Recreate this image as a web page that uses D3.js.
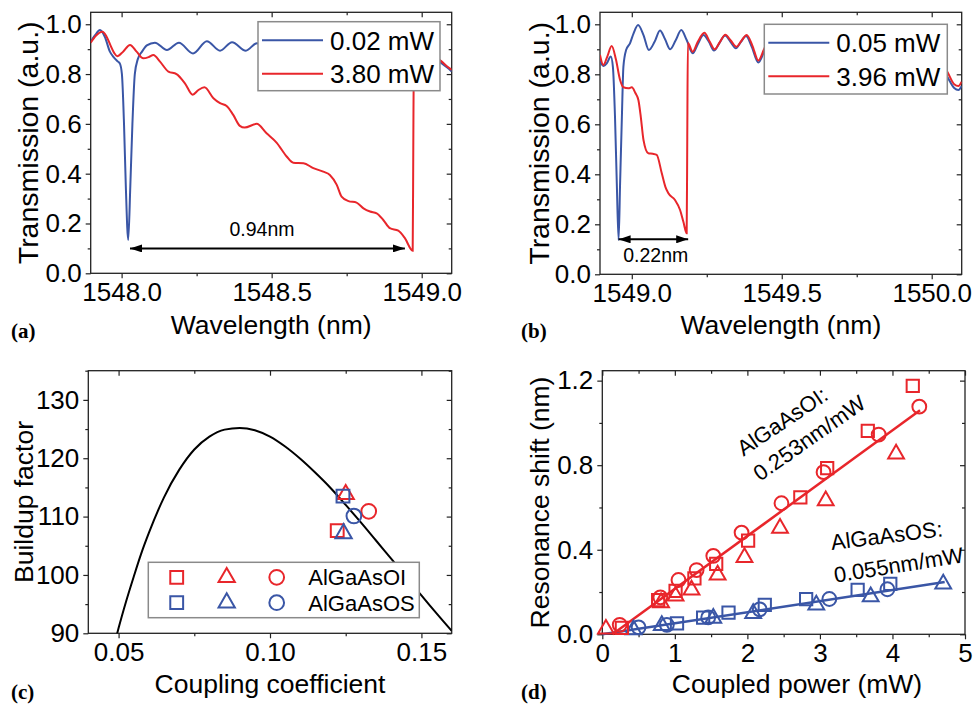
<!DOCTYPE html>
<meta charset="utf-8">
<script src="https://d3js.org/d3.v7.min.js"></script>
<style>
  body { margin: 0; background: #fff; }
  text { font-family: "Liberation Sans", Arial, sans-serif; }
</style>
<svg id="fig" width="975" height="705"></svg>
<script>

// colours
var blue = "#3a56a6", red = "#e8262b";

// ---- (a) spectra: [wavelength nm, transmission] ----
var specA_low = [[1547.897,0.93],[1547.911,0.955],[1547.928,0.977],[1547.944,0.95],[1547.961,0.89],[1547.972,0.87],[1547.988,0.85],[1547.994,0.843],[1548.001,0.80],[1548.008,0.60],[1548.014,0.35],[1548.022,0.134],[1548.029,0.35],[1548.036,0.60],[1548.044,0.80],[1548.054,0.86],[1548.068,0.89],[1548.084,0.915],[1548.111,0.926],[1548.151,0.897],[1548.191,0.926],[1548.238,0.883],[1548.284,0.932],[1548.328,0.894],[1548.368,0.928],[1548.414,0.894],[1548.451,0.924],[1548.49,0.897],[1548.53,0.925],[1548.575,0.895],[1548.62,0.925],[1548.66,0.895],[1548.705,0.925],[1548.75,0.895],[1548.79,0.92],[1548.835,0.89],[1548.88,0.915],[1548.92,0.885],[1548.96,0.905],[1549.0,0.88],[1549.03,0.87],[1549.067,0.843],[1549.085,0.826],[1549.1,0.81]];
var specA_high = [[1547.897,0.926],[1547.915,0.955],[1547.936,0.97],[1547.95,0.95],[1547.963,0.915],[1547.975,0.885],[1547.985,0.872],[1548.005,0.89],[1548.028,0.917],[1548.05,0.89],[1548.072,0.863],[1548.09,0.868],[1548.106,0.877],[1548.128,0.85],[1548.156,0.81],[1548.183,0.80],[1548.211,0.763],[1548.237,0.717],[1548.255,0.735],[1548.276,0.747],[1548.306,0.703],[1548.328,0.683],[1548.35,0.672],[1548.372,0.636],[1548.394,0.592],[1548.41,0.585],[1548.45,0.60],[1548.483,0.562],[1548.517,0.524],[1548.55,0.469],[1548.572,0.444],[1548.606,0.442],[1548.639,0.422],[1548.672,0.408],[1548.694,0.395],[1548.717,0.355],[1548.733,0.308],[1548.756,0.29],[1548.783,0.284],[1548.806,0.261],[1548.828,0.248],[1548.85,0.241],[1548.872,0.214],[1548.894,0.181],[1548.922,0.171],[1548.944,0.141],[1548.97,0.091],[1548.972,0.5],[1548.974,0.90],[1549.0,0.91],[1549.03,0.88],[1549.067,0.85],[1549.085,0.83],[1549.1,0.817]];
var legendA = ["0.02 mW", "3.80 mW"];

// ---- (b) spectra ----
var specB_low = [[1548.894,0.851],[1548.906,0.833],[1548.917,0.845],[1548.93,0.871],[1548.937,0.83],[1548.944,0.63],[1548.95,0.364],[1548.956,0.137],[1548.961,0.364],[1548.967,0.63],[1548.972,0.83],[1548.981,0.897],[1548.994,0.924],[1549.006,0.964],[1549.021,0.997],[1549.039,0.957],[1549.057,0.897],[1549.076,0.93],[1549.094,0.975],[1549.111,0.94],[1549.128,0.90],[1549.146,0.935],[1549.165,0.977],[1549.183,0.937],[1549.203,0.884],[1549.22,0.92],[1549.239,0.957],[1549.257,0.93],[1549.274,0.895],[1549.292,0.925],[1549.311,0.955],[1549.329,0.93],[1549.347,0.904],[1549.364,0.93],[1549.381,0.953],[1549.40,0.91],[1549.422,0.847],[1549.441,0.89],[1549.46,0.94],[1549.5,0.87],[1549.54,0.94],[1549.58,0.86],[1549.62,0.93],[1549.66,0.85],[1549.7,0.92],[1549.74,0.84],[1549.78,0.91],[1549.82,0.83],[1549.86,0.9],[1549.9,0.82],[1549.94,0.88],[1549.98,0.80],[1550.02,0.85],[1550.052,0.79],[1550.075,0.745],[1550.089,0.737],[1550.1,0.753]];
var specB_high = [[1548.894,0.877],[1548.905,0.837],[1548.918,0.87],[1548.933,0.913],[1548.947,0.86],[1548.961,0.777],[1548.972,0.748],[1548.989,0.744],[1549.0,0.748],[1549.012,0.725],[1549.022,0.697],[1549.03,0.63],[1549.039,0.537],[1549.055,0.484],[1549.07,0.482],[1549.083,0.478],[1549.1,0.404],[1549.112,0.35],[1549.122,0.324],[1549.144,0.297],[1549.161,0.257],[1549.172,0.21],[1549.183,0.164],[1549.185,0.55],[1549.187,0.925],[1549.203,0.89],[1549.22,0.93],[1549.242,0.966],[1549.26,0.93],[1549.276,0.9],[1549.294,0.93],[1549.312,0.958],[1549.33,0.935],[1549.349,0.91],[1549.366,0.935],[1549.383,0.957],[1549.402,0.915],[1549.422,0.855],[1549.441,0.90],[1549.46,0.945],[1549.5,0.88],[1549.54,0.945],[1549.58,0.87],[1549.62,0.935],[1549.66,0.86],[1549.7,0.925],[1549.74,0.85],[1549.78,0.915],[1549.82,0.84],[1549.86,0.905],[1549.9,0.83],[1549.94,0.89],[1549.98,0.81],[1550.02,0.86],[1550.052,0.81],[1550.075,0.76],[1550.089,0.753],[1550.1,0.77]];
var legendB = ["0.05 mW", "3.96 mW"];

// ---- (c) buildup factor vs coupling coefficient ----
var kappa   = [0.049,0.05,0.0525,0.055,0.0575,0.06,0.065,0.07,0.075,0.08,0.085,0.09,0.095,0.10,0.105,0.11,0.115,0.12,0.125,0.13,0.135,0.14,0.145,0.15,0.155,0.16];
var buildup = [88.9,90.9,95.5,99.7,103.7,107.2,113.3,118.0,121.5,123.7,124.9,125.2,124.8,123.7,122.0,119.9,117.5,114.9,112.0,109.0,105.9,102.8,99.7,96.5,93.4,90.4];
// measured devices: square, triangle, circle
var measOI = [[0.1222,107.6],[0.1250,113.8],[0.1326,110.9]];
var measOS = [[0.1241,113.5],[0.1243,107.1],[0.1277,110.1]];
var legendC = ["AlGaAsOI", "AlGaAsOS"];

// ---- (d) resonance shift vs coupled power ----
var dOI_sq   = [[0.27,0.03],[0.77,0.162],[1.01,0.205],[1.27,0.265],[1.57,0.333],[2.01,0.443],[2.73,0.648],[3.10,0.786],[3.66,0.962],[4.28,1.175]];
var dOI_tri  = [[0.05,0.025],[0.81,0.15],[1.01,0.181],[1.23,0.21],[1.59,0.281],[1.96,0.364],[2.45,0.502],[3.08,0.632],[4.05,0.853]];
var dOI_circ = [[0.24,0.045],[0.80,0.175],[1.05,0.257],[1.30,0.304],[1.53,0.371],[1.92,0.481],[2.47,0.62],[3.05,0.767],[3.81,0.945],[4.37,1.077]];
var dOS_sq   = [[1.03,0.052],[1.39,0.079],[1.74,0.102],[2.24,0.139],[2.81,0.166],[3.52,0.21],[3.97,0.238]];
var dOS_tri  = [[0.43,0.022],[0.82,0.042],[1.53,0.076],[2.08,0.099],[2.95,0.139],[3.70,0.178],[4.70,0.238]];
var dOS_circ = [[0.50,0.033],[0.89,0.045],[1.46,0.08],[2.17,0.118],[3.13,0.167],[3.93,0.213]];
var dOI_fit  = [[0.14,0],[4.38,1.06]];
var dOS_fit  = [[0,0],[4.72,0.247]];


var svg = d3.select("#fig");
svg.append("rect").attr("width", 975).attr("height", 705).attr("fill", "#fff");

var defs = svg.append("defs");
defs.append("marker").attr("id", "ahead")
    .attr("viewBox", "0 0 12 8").attr("refX", 12).attr("refY", 4)
    .attr("markerWidth", 12).attr("markerHeight", 8)
    .attr("markerUnits", "userSpaceOnUse").attr("orient", "auto-start-reverse")
  .append("path").attr("d", "M0,0L12,4L0,8Z").attr("fill", "#000");

// builds frame, ticks, labels; returns scales + plot group
function panel(p) {
  var x = d3.scaleLinear().domain(p.xDomain).range(p.xRange);
  var y = d3.scaleLinear().domain(p.yDomain).range(p.yRange);
  var g = svg.append("g");
  var xb = p.yRange[0], yt = p.yRange[1], xl = p.xRange[0], xr = p.xRange[1];

  function put(axis, tr) {
    var a = g.append("g").attr("transform", tr).call(axis);
    a.select(".domain").remove();
    a.selectAll("line").attr("stroke", "#222").attr("stroke-width", 1.2);
    a.attr("font-size", 26).attr("font-family", "Liberation Sans, Arial, sans-serif").attr("fill", "#000");
    a.selectAll("text").attr("fill", "#000");
    return a;
  }
  put(d3.axisBottom(x).tickValues(p.xMajor).tickFormat(p.xFmt).tickSize(5).tickPadding(4), "translate(0," + xb + ")");
  put(d3.axisBottom(x).tickValues(p.xMinor).tickFormat("").tickSize(3), "translate(0," + xb + ")");
  put(d3.axisTop(x).tickValues(p.xMajor).tickFormat("").tickSize(-5), "translate(0," + yt + ")");
  put(d3.axisTop(x).tickValues(p.xMinor).tickFormat("").tickSize(-3), "translate(0," + yt + ")");
  put(d3.axisLeft(y).tickValues(p.yMajor).tickFormat(p.yFmt).tickSize(5).tickPadding(4), "translate(" + xl + ",0)");
  put(d3.axisLeft(y).tickValues(p.yMinor).tickFormat("").tickSize(3), "translate(" + xl + ",0)");
  put(d3.axisRight(y).tickValues(p.yMajor).tickFormat("").tickSize(-5), "translate(" + xr + ",0)");
  put(d3.axisRight(y).tickValues(p.yMinor).tickFormat("").tickSize(-3), "translate(" + xr + ",0)");

  g.append("rect").attr("x", xl).attr("y", yt).attr("width", xr - xl).attr("height", xb - yt)
      .attr("fill", "none").attr("stroke", "#222").attr("stroke-width", 1.3);

  g.append("clipPath").attr("id", p.id).append("rect")
      .attr("x", xl).attr("y", yt).attr("width", xr - xl).attr("height", xb - yt);
  var plot = g.append("g").attr("clip-path", "url(#" + p.id + ")");

  // axis titles
  g.append("text").attr("x", p.xTitleX || (xl + xr) / 2).attr("y", p.xTitleY)
      .attr("text-anchor", "middle").attr("font-size", 26.5).text(p.xTitle);
  g.append("text").attr("transform", "translate(" + p.yTitleX + "," + (xb + yt) / 2 + ") rotate(-90)")
      .attr("text-anchor", "middle").attr("dominant-baseline", "central")
      .attr("font-size", p.yTitleSize || 26.5).text(p.yTitle);
  // panel letter
  svg.append("text").attr("x", p.tagX).attr("y", p.tagY)
      .style("font-family", "Liberation Serif, Times New Roman, serif")
      .attr("font-weight", "bold").attr("font-size", 21).text(p.tag);

  return {x: x, y: y, g: g, plot: plot};
}

var f1 = d3.format(".1f"), f2 = d3.format(".2f"), fd = d3.format("d");

function drawLegend(g, x, y, w, h, labels, colors) {
  g.append("rect").attr("x", x).attr("y", y).attr("width", w).attr("height", h)
      .attr("fill", "#fff").attr("stroke", "#8a8a8a").attr("stroke-width", 1.5);
  labels.forEach(function(t, i) {
    var cy = y + 18.5 + i * 33.5;
    g.append("line").attr("x1", x + 4).attr("x2", x + 65).attr("y1", cy).attr("y2", cy)
        .attr("stroke", colors[i]).attr("stroke-width", 2);
    g.append("text").attr("x", x + 72).attr("y", cy + 9.5).attr("font-size", 26).text(t);
  });
}

function spectrum(P, data, color) {
  P.plot.append("path").datum(data)
    .attr("fill", "none").attr("stroke", color).attr("stroke-width", 2)
    .attr("d", d3.line().curve(d3.curveMonotoneX)
        .x(function(d) { return P.x(d[0]); }).y(function(d) { return P.y(d[1]); }));
}

function arrow(P, x1, x2, yv, label, lx, ly) {
  P.g.append("line").attr("x1", P.x(x1)).attr("x2", P.x(x2)).attr("y1", P.y(yv)).attr("y2", P.y(yv))
    .attr("stroke", "#000").attr("stroke-width", 2)
    .attr("marker-start", "url(#ahead)").attr("marker-end", "url(#ahead)");
  P.g.append("text").attr("x", P.x(lx)).attr("y", P.y(ly)).attr("text-anchor", "middle")
    .attr("font-size", 19.5).text(label);
}

// ---------------- (a) ----------------
var A = panel({
  id: "clipA", xDomain: [1547.897, 1549.1], xRange: [90.7, 451.7],
  yDomain: [0, 1.048], yRange: [273.3, 12.3],
  xMajor: [1548, 1548.5, 1549], xMinor: [1548.25, 1548.75], xFmt: f1,
  yMajor: [0, 0.2, 0.4, 0.6, 0.8, 1.0], yMinor: [0.1, 0.3, 0.5, 0.7, 0.9], yFmt: f1,
  xTitle: "Wavelength (nm)", xTitleY: 334, yTitle: "Transmission (a.u.)", yTitleX: 28, yTitleSize: 28.5,
  tag: "(a)", tagX: 11, tagY: 338
});
spectrum(A, specA_low, blue);
spectrum(A, specA_high, red);
drawLegend(A.g, 258, 21.7, 182, 69, legendA, [blue, red]);
arrow(A, 1548.028, 1548.944, 0.1, "0.94nm", 1548.468, 0.15);

// ---------------- (b) ----------------
var B = panel({
  id: "clipB", xDomain: [1548.894, 1550.1], xRange: [600, 961.7],
  yDomain: [0, 1.048], yRange: [274.3, 12.3],
  xMajor: [1549, 1549.5, 1550], xMinor: [1549.25, 1549.75], xFmt: f1,
  yMajor: [0, 0.2, 0.4, 0.6, 0.8, 1.0], yMinor: [0.1, 0.3, 0.5, 0.7, 0.9], yFmt: f1,
  xTitle: "Wavelength (nm)", xTitleY: 334, yTitle: "Transmission (a.u.)", yTitleX: 539, yTitleSize: 28.5,
  tag: "(b)", tagX: 521, tagY: 338
});
spectrum(B, specB_low, blue);
spectrum(B, specB_high, red);
drawLegend(B.g, 764.3, 24.3, 183, 69.7, legendB, [blue, red]);
arrow(B, 1548.956, 1549.188, 0.14, "0.22nm", 1549.08, 0.049);

// ---------------- (c) ----------------
var C = panel({
  id: "clipC", xDomain: [0.04, 0.16], xRange: [88.3, 451.7],
  yDomain: [90, 135], yRange: [633.3, 370.7],
  xMajor: [0.05, 0.10, 0.15], xMinor: [0.075, 0.125], xFmt: f2,
  yMajor: [90, 100, 110, 120, 130], yMinor: [95, 105, 115, 125, 135], yFmt: fd,
  xTitle: "Coupling coefficient", xTitleY: 693, yTitle: "Buildup factor", yTitleX: 24,
  tag: "(c)", tagX: 11, tagY: 699
});
C.plot.append("path").datum(d3.zip(kappa, buildup))
  .attr("fill", "none").attr("stroke", "#000").attr("stroke-width", 2)
  .attr("d", d3.line().curve(d3.curveMonotoneX)
      .x(function(d) { return C.x(d[0]); }).y(function(d) { return C.y(d[1]); }));

var shapes = [d3.symbolSquare, d3.symbolTriangle, d3.symbolCircle];
var sizeC = [165, 115, 170], sizeD = [150, 108, 150];

function markers(g, pts, shape, size, color, xs, ys) {
  g.selectAll(null).data(pts).enter().append("path")
    .attr("transform", function(d) { return "translate(" + xs(d[0]) + "," + ys(d[1]) + ")"; })
    .attr("d", d3.symbol().type(shape).size(size))
    .attr("fill", "none").attr("stroke", color).attr("stroke-width", 2);
}
measOI.forEach(function(d, i) { markers(C.g, [d], shapes[i], sizeC[i], red, C.x, C.y); });
measOS.forEach(function(d, i) { markers(C.g, [d], shapes[i], sizeC[i], blue, C.x, C.y); });

// legend (c)
(function() {
  var lx = 148.3, ly = 562.3;
  C.g.append("rect").attr("x", lx).attr("y", ly).attr("width", 271).attr("height", 55.4)
    .attr("fill", "#fff").attr("stroke", "#8a8a8a").attr("stroke-width", 1.5);
  [red, blue].forEach(function(col, r) {
    var cy = ly + 15 + r * 25.4;
    shapes.forEach(function(s, i) {
      C.g.append("path").attr("transform", "translate(" + (lx + 28.4 + i * 50) + "," + cy + ")")
        .attr("d", d3.symbol().type(s).size(sizeC[i]))
        .attr("fill", "none").attr("stroke", col).attr("stroke-width", 2);
    });
    C.g.append("text").attr("x", lx + 160).attr("y", cy + 8).attr("font-size", 22).text(legendC[r]);
  });
})();

// ---------------- (d) ----------------
var D = panel({
  id: "clipD", xDomain: [0, 5], xRange: [602.3, 965],
  yDomain: [0, 1.247], yRange: [634.3, 370.7],
  xMajor: [0, 1, 2, 3, 4, 5], xMinor: [0.5, 1.5, 2.5, 3.5, 4.5], xFmt: fd,
  yMajor: [0, 0.4, 0.8, 1.2], yMinor: [0.2, 0.6, 1.0], yFmt: f1,
  xTitle: "Coupled power (mW)", xTitleX: 797, xTitleY: 693, yTitle: "Resonance shift (nm)", yTitleX: 540,
  tag: "(d)", tagX: 521, tagY: 699
});
var fitLine = d3.line().x(function(d) { return D.x(d[0]); }).y(function(d) { return D.y(d[1]); });
D.g.append("path").datum(dOS_fit).attr("d", fitLine).attr("fill", "none").attr("stroke", blue).attr("stroke-width", 2.5);
D.g.append("path").datum(dOI_fit).attr("d", fitLine).attr("fill", "none").attr("stroke", red).attr("stroke-width", 2.5);
[dOS_sq, dOS_tri, dOS_circ].forEach(function(pts, i) { markers(D.g, pts, shapes[i], sizeD[i], blue, D.x, D.y); });
[dOI_sq, dOI_tri, dOI_circ].forEach(function(pts, i) { markers(D.g, pts, shapes[i], sizeD[i], red, D.x, D.y); });

function slopeText(px, py, ang, t) {
  D.g.append("text").attr("transform", "translate(" + D.x(px) + "," + D.y(py) + ") rotate(" + ang + ")")
    .attr("font-size", 22).text(t);
}
slopeText(1.945, 0.84, -34, "AlGaAsOI:");
slopeText(2.175, 0.722, -35, "0.253nm/mW");
slopeText(3.164, 0.399, -7, "AlGaAsOS:");
slopeText(3.21, 0.244, -9, "0.055nm/mW");

</script>
